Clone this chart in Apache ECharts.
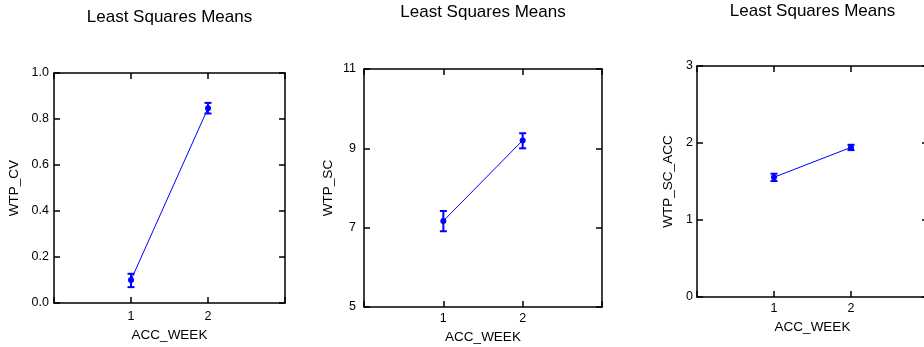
<!DOCTYPE html>
<html><head><meta charset="utf-8">
<script src="https://cdn.jsdelivr.net/npm/echarts@6/dist/echarts.min.js"></script>
<style>html,body{margin:0;padding:0;background:#fff}#c{width:924px;height:347px}</style>
</head><body><div id="c"></div>
<script>
// ---- data ----
const categories = [1, 2];
const titles = ['Least Squares Means', 'Least Squares Means', 'Least Squares Means'];
const xName = 'ACC_WEEK';
const yNames = ['WTP_CV', 'WTP_SC', 'WTP_SC_ACC'];

const cvMean  = [0.100, 0.847];
const cvLower = [0.069, 0.824];
const cvUpper = [0.127, 0.870];

const scMean  = [7.17, 9.20];
const scLower = [6.91, 9.00];
const scUpper = [7.42, 9.38];

const accMean  = [1.555, 1.943];
const accLower = [1.506, 1.908];
const accUpper = [1.601, 1.977];

const yTicks1 = [0, 0.2, 0.4, 0.6, 0.8, 1.0];
const yTicks2 = [5, 7, 9, 11];
const yTicks3 = [0, 1, 2, 3];

// ---- layout ----
const FONT = '"Liberation Sans", Arial, sans-serif';
const BLUE = '#0000ff';
const panels = [
  {grid:{left:54, top:73, width:231, height:230}, ticks:yTicks1, dec:1, mean:cvMean, lo:cvLower, hi:cvUpper,
   yLabelMargin:5, yNameGap:33, xNameGap:20, xLabelMargin:7, titleY:17},
  {grid:{left:364, top:69, width:238, height:238}, ticks:yTicks2, dec:0, mean:scMean, lo:scLower, hi:scUpper,
   yLabelMargin:8, yNameGap:29, xNameGap:22, xLabelMargin:5, titleY:12.5},
  {grid:{left:697, top:66, width:231, height:231}, ticks:yTicks3, dec:0, mean:accMean, lo:accLower, hi:accUpper,
   yLabelMargin:4, yNameGap:22, xNameGap:21, xLabelMargin:5, titleY:11}
];

const mkLine = () => ({show:true, onZero:false, lineStyle:{color:'#000', width:1.5}});
const mkTick = () => ({show:true, inside:true, length:6, lineStyle:{color:'#000', width:1.5}});
const grid = [], xAxis = [], yAxis = [], series = [], graphic = [];

panels.forEach((p, i) => {
  grid.push(Object.assign({containLabel:false, outerBoundsMode:'none'}, p.grid));
  const t = p.ticks;
  const yInt = t[1] - t[0];
  // bottom x
  xAxis.push({type:'value', gridIndex:i, position:'bottom', min:0, max:3, interval:1,
    axisLine:mkLine(), axisTick:mkTick(), splitLine:{show:false},
    axisLabel:{margin:p.xLabelMargin, fontFamily:FONT, fontSize:12.5, color:'#000',
      formatter: v => categories.indexOf(v) >= 0 ? String(v) : ''},
    name:xName, nameLocation:'middle', nameGap:p.xNameGap,
    nameTextStyle:{fontFamily:FONT, fontSize:13.5, color:'#000'}});
  // top x (mirror)
  xAxis.push({type:'value', gridIndex:i, position:'top', min:0, max:3, interval:1,
    axisLine:mkLine(), axisTick:mkTick(), splitLine:{show:false}, axisLabel:{show:false}});
  // left y
  yAxis.push({type:'value', gridIndex:i, position:'left', min:t[0], max:t[t.length-1], interval:yInt,
    axisLine:mkLine(), axisTick:mkTick(), splitLine:{show:false},
    axisLabel:{margin:p.yLabelMargin, fontFamily:FONT, fontSize:12.5, color:'#000',
      formatter: v => Number(v).toFixed(p.dec)},
    name:yNames[i], nameLocation:'middle', nameGap:p.yNameGap, nameRotate:90,
    nameTextStyle:{fontFamily:FONT, fontSize:13.5, color:'#000'}});
  // right y (mirror)
  yAxis.push({type:'value', gridIndex:i, position:'right', min:t[0], max:t[t.length-1], interval:yInt,
    axisLine:mkLine(), axisTick:mkTick(), splitLine:{show:false}, axisLabel:{show:false}});

  const xi = i * 2, yi = i * 2;
  series.push({type:'line', xAxisIndex:xi, yAxisIndex:yi,
    data: categories.map((c, k) => [c, p.mean[k]]),
    lineStyle:{color:BLUE, width:1}, itemStyle:{color:BLUE},
    symbol:'circle', symbolSize:6, showSymbol:true, silent:true, z:3});
  series.push({type:'custom', xAxisIndex:xi, yAxisIndex:yi,
    data: categories.map((c, k) => [c, p.lo[k], p.hi[k]]),
    encode:{x:0, y:[1, 2]}, z:4, silent:true,
    renderItem: (params, api) => {
      const x = api.value(0);
      const a = api.coord([x, api.value(1)]);
      const b = api.coord([x, api.value(2)]);
      const w = 3.5, st = {stroke:BLUE, lineWidth:2};
      return {type:'group', children:[
        {type:'line', shape:{x1:a[0], y1:a[1], x2:b[0], y2:b[1]}, style:st},
        {type:'line', shape:{x1:a[0]-w, y1:a[1], x2:a[0]+w, y2:a[1]}, style:st},
        {type:'line', shape:{x1:b[0]-w, y1:b[1], x2:b[0]+w, y2:b[1]}, style:st}
      ]};
    }});

  graphic.push({type:'text', x: p.grid.left + p.grid.width / 2, y: p.titleY,
    style:{text:titles[i], fill:'#000', font:'17px ' + FONT, textAlign:'center', textVerticalAlign:'middle'}});
});

const chart = echarts.init(document.getElementById('c'), null, {renderer:'canvas'});
chart.setOption({animation:false, backgroundColor:'#fff', grid, xAxis, yAxis, series, graphic});
</script></body></html>
